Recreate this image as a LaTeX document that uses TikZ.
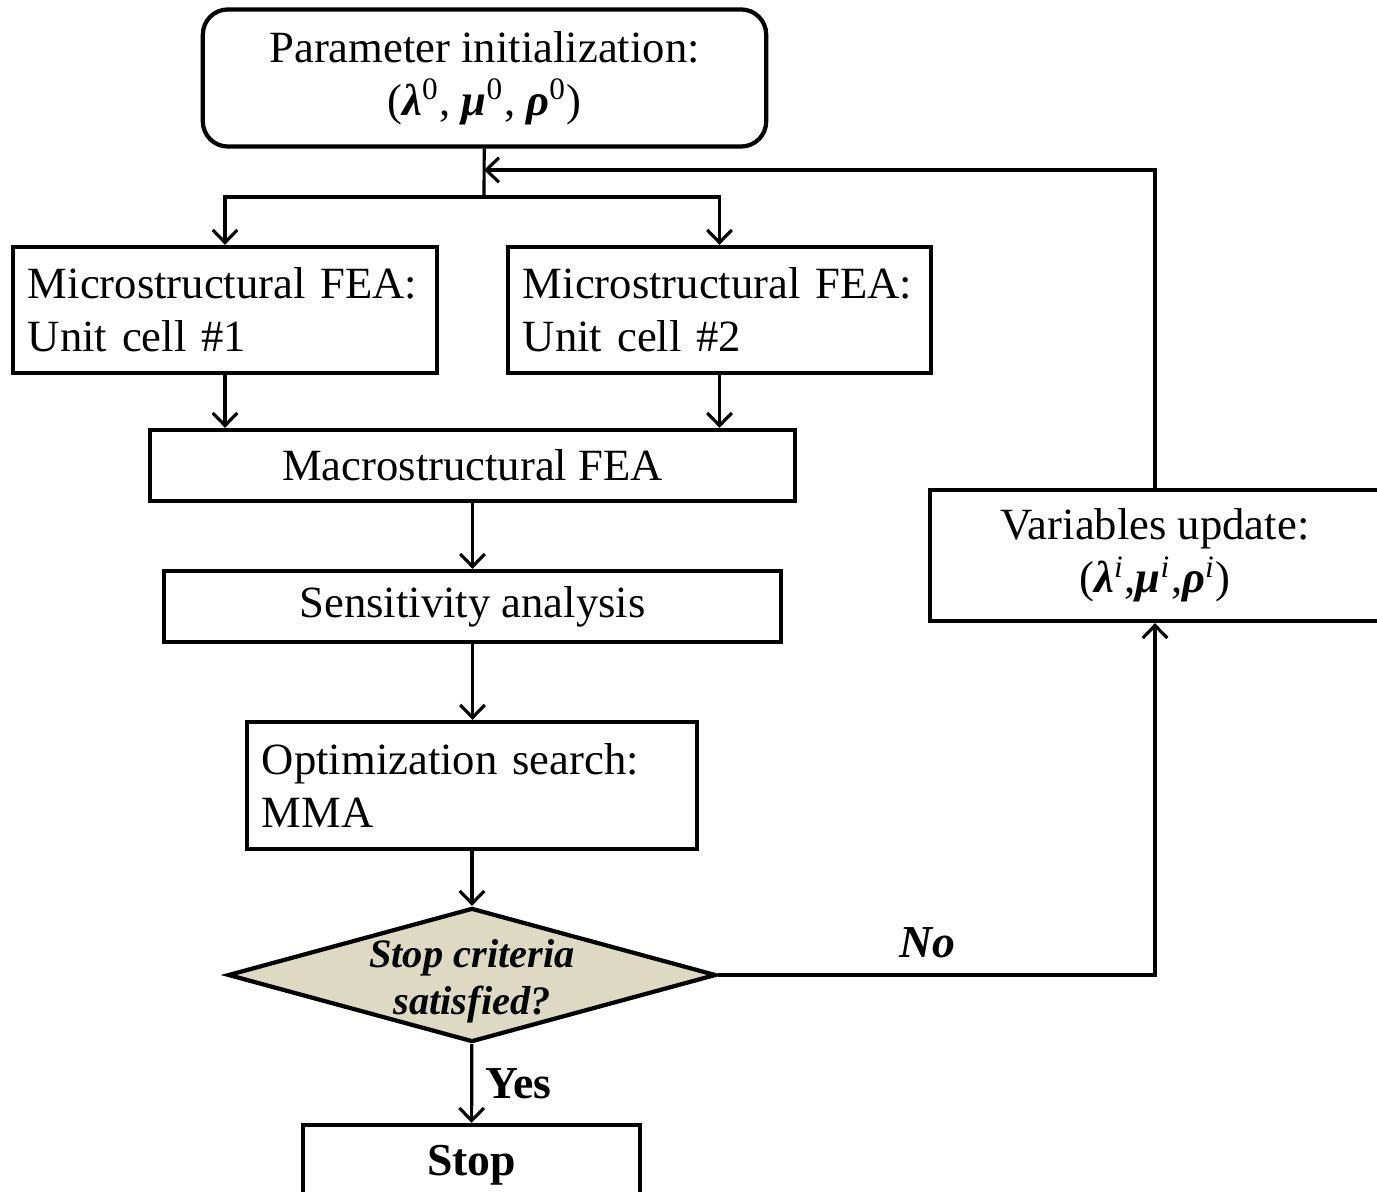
\documentclass[tikz,border=0pt]{standalone}
\usepackage{fontspec}
\setmainfont{Liberation Serif}
\usetikzlibrary{arrows.meta,shapes.geometric}
\definecolor{critfill}{RGB}{221,217,195}
\tikzset{
  >={Straight Barb[length=3.6pt,width=7pt]},
  {base box/.style} ={draw, line width=1.2pt, rectangle, inner sep=0,
                      font=\fontsize{12.7}{15}\selectfont},
  {start box/.style} ={base box, rounded corners=0.25cm, align=center},
  {center box/.style} ={base box, align=center},
  {left box/.style} ={base box, align=left, inner xsep=0.15cm},
  {decision/.style} ={diamond, draw, line width=1.2pt, fill=critfill,
                      inner sep=0},
  {flow/.style} ={line width=0.9pt},
  {flow label/.style} ={font=\fontsize{13}{15}\selectfont\bfseries},
}
\newcommand{\bi}[1]{\textbf{\textit{#1}}}

\begin{document}
\begin{tikzpicture}[x=0.01cm,y=-0.01cm]
\useasboundingbox (0,0) rectangle (1377,1192);
% boxes
\node[start box, minimum width=5.63cm, minimum height=1.37cm] (init) at (484.5,78)
  {Parameter initialization:\\(\bi{λ}\textsuperscript{0}, \bi{μ}\textsuperscript{0}, \bi{ρ}\textsuperscript{0})};
\node[left box, minimum width=4.24cm, minimum height=1.26cm, text width=3.94cm] (cell1) at (225,310)
  {Microstructural FEA:\\Unit cell \#1};
\node[left box, minimum width=4.23cm, minimum height=1.26cm, text width=3.93cm] (cell2) at (719.5,310)
  {Microstructural FEA:\\Unit cell \#2};
\node[center box, minimum width=6.45cm, minimum height=0.71cm] (macro) at (472.5,465.5)
  {Macrostructural FEA};
\node[center box, minimum width=6.17cm, minimum height=0.71cm] (sens) at (472.5,606.5)
  {Sensitivity analysis};
\node[left box, minimum width=4.5cm, minimum height=1.27cm, text width=4.2cm] (opt) at (472,785.5)
  {Optimization search:\\MMA};
\node[decision, minimum width=4.88cm, minimum height=1.34cm,
      label={[align=center, yshift=-0.06cm, font=\fontsize{11.5}{13.4}\selectfont\bfseries\itshape]center:Stop criteria\\satisfied?}]
  (crit) at (472,975) {};
\node[center box, minimum width=4.5cm, minimum height=1.31cm] (update) at (1155,555.5)
  {Variables update:\\(\bi{λ}\textsuperscript{\textit{i}},\bi{μ}\textsuperscript{\textit{i}},\bi{ρ}\textsuperscript{\textit{i}})};
\node[center box, minimum width=3.37cm, minimum height=0.8cm, font=\fontsize{13}{15}\selectfont\bfseries] (stop) at (471.5,1165)
  {Stop};
\coordinate (merge) at (484,170);
\coordinate (split) at (484,197);
% connectors
\draw[flow] (init) -- (split);
\draw[flow,->] (split) -| (cell1);
\draw[flow,->] (split) -| (cell2);
\draw[flow,->] (cell1) -- (cell1 |- macro.north);
\draw[flow,->] (cell2) -- (cell2 |- macro.north);
\draw[flow,->] (macro) -- (sens);
\draw[flow,->] (sens) -- (sens |- opt.north);
\draw[flow,->] (opt) -- (crit);
\draw[flow,->] (crit.east) -| node[pos=0.24, above=1pt, flow label] {\itshape No} (update);
\draw[flow,->] (update) |- (merge);
\draw[flow,->] (crit) -- node[right=0pt, flow label] {Yes} (stop);
\end{tikzpicture}
\end{document}
